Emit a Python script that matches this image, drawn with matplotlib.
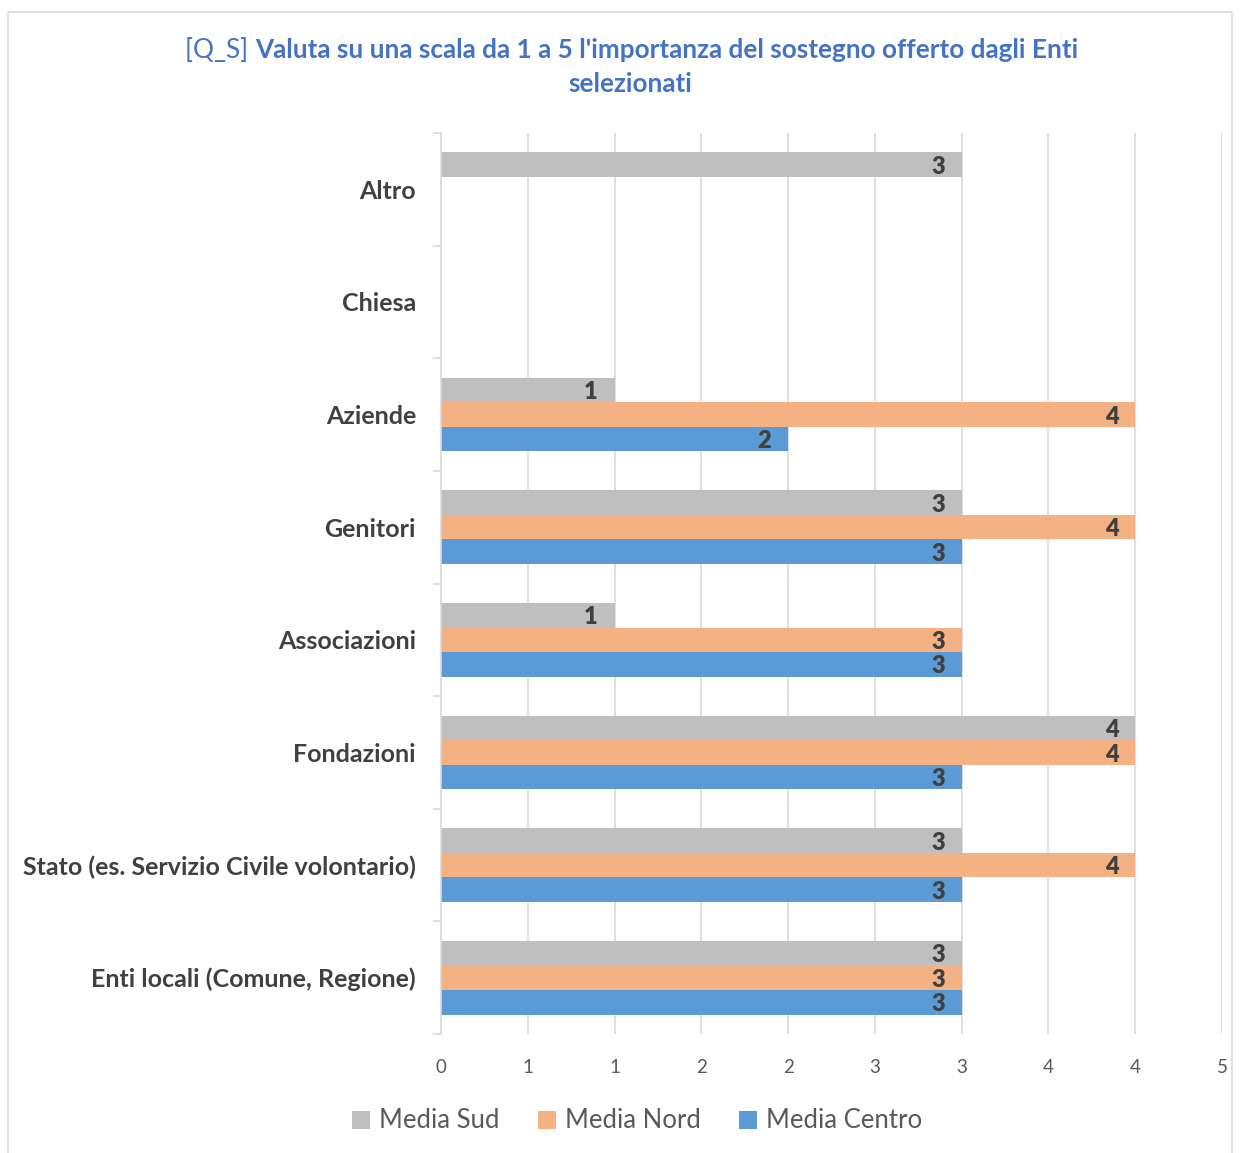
import numpy as np
import matplotlib.pyplot as plt
from matplotlib.patches import Rectangle

plt.rcParams['font.family'] = ['Lato', 'DejaVu Sans']

# dati (dal basso verso l'alto)
categories = ['Enti locali (Comune, Regione)', 'Stato (es. Servizio Civile volontario)',
              'Fondazioni', 'Associazioni', 'Genitori', 'Aziende', 'Chiesa', 'Altro']
media_sud = [3, 3, 4, 1, 3, 1, np.nan, 3]
media_nord = [3, 4, 4, 3, 4, 4, np.nan, np.nan]
media_centro = [3, 3, 3, 3, 3, 2, np.nan, np.nan]
series_names = ['Media Sud', 'Media Nord', 'Media Centro']
xticks = [0, 0.5, 1, 1.5, 2, 2.5, 3, 3.5, 4, 4.5]
xtick_labels = ['0', '1', '1', '2', '2', '3', '3', '4', '4', '5']

colors = ['#bfbfbf', '#f4b183', '#5b9bd5']
grid_col = '#d9d9d9'
txt_col = '#404040'

fig = plt.figure(figsize=(12.46, 11.53), dpi=100)
fig.patches.append(Rectangle((8 / 1246, -0.01), 1224 / 1246, 1 - 12 / 1153 + 0.01,
                             transform=fig.transFigure, fill=False,
                             edgecolor=grid_col, lw=1.2))
ax = fig.add_axes([441 / 1246, 1 - 1034 / 1153, 781 / 1246, 901 / 1153])

y = np.arange(len(categories))
h = 0.218
offsets = [h, 0, -h]
for vals, off, col, name in zip([media_sud, media_nord, media_centro], offsets, colors, series_names):
    bars = ax.barh(y + off, vals, height=h, color=col, label=name, zorder=2)
    for b, v in zip(bars, vals):
        if np.isnan(v):
            continue
        ax.annotate(f'{v:.0f}', xy=(v, b.get_y() + b.get_height() / 2),
                    xytext=(-12, -1.5), textcoords='offset points',
                    ha='right', va='center', fontsize=17, fontweight='heavy',
                    color=txt_col, zorder=3)

ax.set_xlim(0, 4.5)
ax.set_ylim(-0.5, len(categories) - 0.5)
ax.set_xticks(xticks)
ax.set_xticklabels(xtick_labels, fontsize=13.5, color='#595959')
ax.set_yticks(y)
ax.set_yticklabels(categories, fontsize=18, fontweight='bold', color=txt_col)
ax.set_yticks(np.arange(-0.5, len(categories)), minor=True)
ax.tick_params(axis='x', length=0, pad=18)
ax.tick_params(axis='y', which='major', length=0, pad=18)
ax.tick_params(axis='y', which='minor', length=6, color=grid_col, width=1.2)
ax.grid(axis='x', color=grid_col, lw=1.2, zorder=0)
for s in ['top', 'right', 'bottom']:
    ax.spines[s].set_visible(False)
ax.spines['left'].set_color(grid_col)
ax.spines['left'].set_linewidth(1.2)

# titolo: "[Q_S]" normale, resto in grassetto
title_col = '#4472c4'
t1 = fig.text(0, 1 - 50 / 1153, '[Q_S] ', fontsize=18.8, color=title_col, va='center')
t2 = fig.text(0, 1 - 50 / 1153, "Valuta su una scala da 1 a 5 l'importanza del sostegno offerto dagli Enti",
              fontsize=18.8, fontweight='bold', color=title_col, va='center')
fig.text(630 / 1246, 1 - 84 / 1153, 'selezionati', fontsize=18.8, fontweight='bold',
         color=title_col, va='center', ha='center')
r = fig.canvas.get_renderer()
w1 = t1.get_window_extent(r).width
w2 = t2.get_window_extent(r).width
x0 = 632 - (w1 + w2) / 2
t1.set_x(x0 / 1246)
t2.set_x((x0 + w1) / 1246)

fig.legend(loc='center', bbox_to_anchor=(637 / 1246, 1 - 1121 / 1153), ncol=3,
           frameon=False, fontsize=18.5, labelcolor='#595959', handlelength=0.7,
           handleheight=0.7, handletextpad=0.35, columnspacing=1.5)

fig.savefig('out.png', dpi=100)
